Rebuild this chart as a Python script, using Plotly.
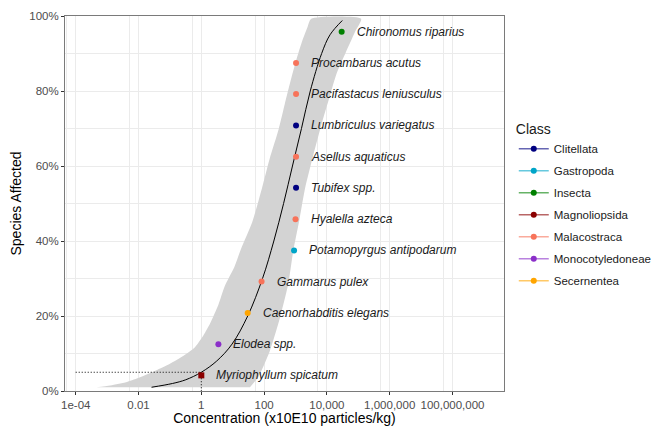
import numpy as np
import plotly.graph_objects as go

# ---------------- data ----------------
species = ["Myriophyllum spicatum", "Elodea spp.", "Caenorhabditis elegans", "Gammarus pulex",
           "Potamopyrgus antipodarum", "Hyalella azteca", "Tubifex spp.", "Asellus aquaticus",
           "Lumbriculus variegatus", "Pacifastacus leniusculus", "Procambarus acutus",
           "Chironomus riparius"]
species_class = ["Magnoliopsida", "Monocotyledoneae", "Secernentea", "Malacostraca",
                 "Gastropoda", "Malacostraca", "Clitellata", "Malacostraca",
                 "Clitellata", "Malacostraca", "Malacostraca", "Insecta"]
species_conc = [1.0, 3.5, 30, 83, 900, 1000, 1040, 1040, 1040, 1040, 1040, 29500]
species_pct = [4.17, 12.5, 20.83, 29.17, 37.5, 45.83, 54.17, 62.5, 70.83, 79.17, 87.5, 95.83]

classes = ["Clitellata", "Gastropoda", "Insecta", "Magnoliopsida", "Malacostraca",
           "Monocotyledoneae", "Secernentea"]
class_colors = ["#000080", "#00A5C8", "#008000", "#8B0000", "#F7735A", "#8B2FC9", "#FFA500"]

# fitted curve
curve_pct = [1.0, 2.0, 3.0, 5.0, 8.0, 12.5, 20, 30, 40, 50, 60, 70, 80, 90, 95, 98.8]
curve_conc = [0.026, 0.12, 0.32, 1.0, 3.1, 9.5, 30, 89, 204, 417, 800, 1550, 2950, 6800, 12600, 30900]

# confidence band
band_lo_pct = [1.0, 1.5, 2.5, 3.7, 5.5, 7.3, 9.5, 11.7, 15, 18, 23, 28, 33, 38, 45, 54, 62, 70, 79, 87, 93, 97, 99.3]
band_lo_conc = [4.5e-4, 1.26e-3, 4.5e-3, 0.0112, 0.0355, 0.1, 0.28, 0.63, 1.2, 1.9, 3.5, 5.6,
                11.2, 18.6, 41.7, 85, 151, 295, 537, 955, 1585, 2400, 3160]
band_hi_pct = [1.0, 3.7, 6.4, 10.9, 19.7, 28.6, 37.5, 45.5, 53.9, 62.4, 70.9, 78.9, 84.5, 90.3, 95.7, 99.3]
band_hi_conc = [35.5, 65, 93, 155, 324, 589, 851, 1318, 1995, 3550, 6600, 12600, 20000, 39800, 77600, 123000]

# HC5
hc5_conc = 1.0
hc5_pct = 5.0
hc5_line_from = 1e-4

tick_vals = [1e-4, 1e-2, 1, 100, 1e4, 1e6, 1e8]
tick_text = ["1e-04", "0.01", "1", "100", "10,000", "1,000,000", "100,000,000"]
y_ticks = [0, 20, 40, 60, 80, 100]

FONT = "Liberation Sans, Arial, sans-serif"
GRID = "#EBEBEB"

fig = go.Figure()

# band
fig.add_trace(go.Scatter(
    x=band_lo_conc + band_hi_conc[::-1],
    y=band_lo_pct + band_hi_pct[::-1],
    mode="lines", fill="toself", fillcolor="#D3D3D3",
    line=dict(width=0, shape="spline", smoothing=0.6),
    hoverinfo="skip", showlegend=False))

# curve
fig.add_trace(go.Scatter(x=curve_conc, y=curve_pct, mode="lines",
                         line=dict(color="black", width=1, shape="spline"),
                         showlegend=False, hoverinfo="skip"))

# HC5 dotted lines
fig.add_trace(go.Scatter(x=[hc5_line_from, hc5_conc], y=[hc5_pct, hc5_pct], mode="lines",
                         line=dict(color="black", width=1, dash="1px,2px"),
                         showlegend=False, hoverinfo="skip"))
fig.add_trace(go.Scatter(x=[hc5_conc, hc5_conc], y=[hc5_pct, 0], mode="lines",
                         line=dict(color="black", width=1, dash="1px,2px"),
                         showlegend=False, hoverinfo="skip"))

# points
for cls, col in zip(classes, class_colors):
    idx = [i for i, c in enumerate(species_class) if c == cls]
    fig.add_trace(go.Scatter(
        x=[species_conc[i] for i in idx], y=[species_pct[i] for i in idx],
        mode="markers",
        marker=dict(color=col, size=6,
                    symbol=["square" if cls == "Magnoliopsida" else "circle" for _ in idx],
                    line=dict(width=0)),
        showlegend=False, name=cls))

# legend entries
def rgba(hexc, a):
    h = hexc.lstrip("#")
    return "rgba(%d,%d,%d,%.2f)" % (int(h[0:2], 16), int(h[2:4], 16), int(h[4:6], 16), a)

for cls, col in zip(classes, class_colors):
    fig.add_trace(go.Scatter(
        x=[None], y=[None], mode="lines+markers", name=cls,
        line=dict(color=rgba(col, 0.6), width=1.5),
        marker=dict(color=col, size=6), legendgroup=cls, showlegend=True))

# labels
for s, c, p in zip(species, species_conc, species_pct):
    fig.add_annotation(x=np.log10(c), y=p, xref="x", yref="y", text="<i>%s</i>" % s,
                       showarrow=False, xanchor="left", yanchor="middle", xshift=13,
                       font=dict(family=FONT, size=12, color="#1A1A1A"))

fig.update_layout(
    width=652, height=426,
    margin=dict(l=65, r=148, t=16, b=35, autoexpand=False),
    paper_bgcolor="white", plot_bgcolor="white",
    font=dict(family=FONT, color="#1A1A1A"),
    legend=dict(
        title=dict(text="Class", font=dict(size=14, color="#1A1A1A")),
        font=dict(size=11.5, color="#1A1A1A"),
        x=1.348, xanchor="right", y=0.733, yanchor="top",
        traceorder="grouped", tracegroupgap=3,
        itemwidth=30, bgcolor="rgba(0,0,0,0)"),
    xaxis=dict(
        type="log", range=[-4.341, 9.64], automargin=False,
        tickvals=tick_vals, ticktext=tick_text,
        ticks="outside", ticklen=3, tickcolor="#333333",
        tickfont=dict(size=11.5, color="#4D4D4D"),
        showgrid=True, gridcolor=GRID, gridwidth=1,
        minor=dict(tickvals=[v * 0.52 for v in tick_vals], showgrid=True,
                   gridcolor=GRID, gridwidth=1, ticklen=0),
        showline=True, linecolor="#7A7A7A", linewidth=1, mirror=True,
        zeroline=False,
        title=dict(text="Concentration (x10E10 particles/kg)",
                   font=dict(size=14, color="black"), standoff=0),
    ),
    yaxis=dict(
        range=[0, 100], automargin=False, tickvals=y_ticks,
        ticktext=["%d%%" % v for v in y_ticks],
        ticks="outside", ticklen=3, tickcolor="#333333",
        tickfont=dict(size=11.5, color="#4D4D4D"),
        showgrid=True, gridcolor=GRID, gridwidth=1,
        minor=dict(dtick=10, showgrid=True, gridcolor=GRID, gridwidth=1, ticklen=0),
        showline=True, linecolor="#7A7A7A", linewidth=1, mirror=True,
        zeroline=False,
        title=dict(text="Species Affected", font=dict(size=14, color="black"), standoff=4),
    ),
)

fig.write_html("out.html", config={"displayModeBar": False},
               post_script="document.body.style.margin='0';")
